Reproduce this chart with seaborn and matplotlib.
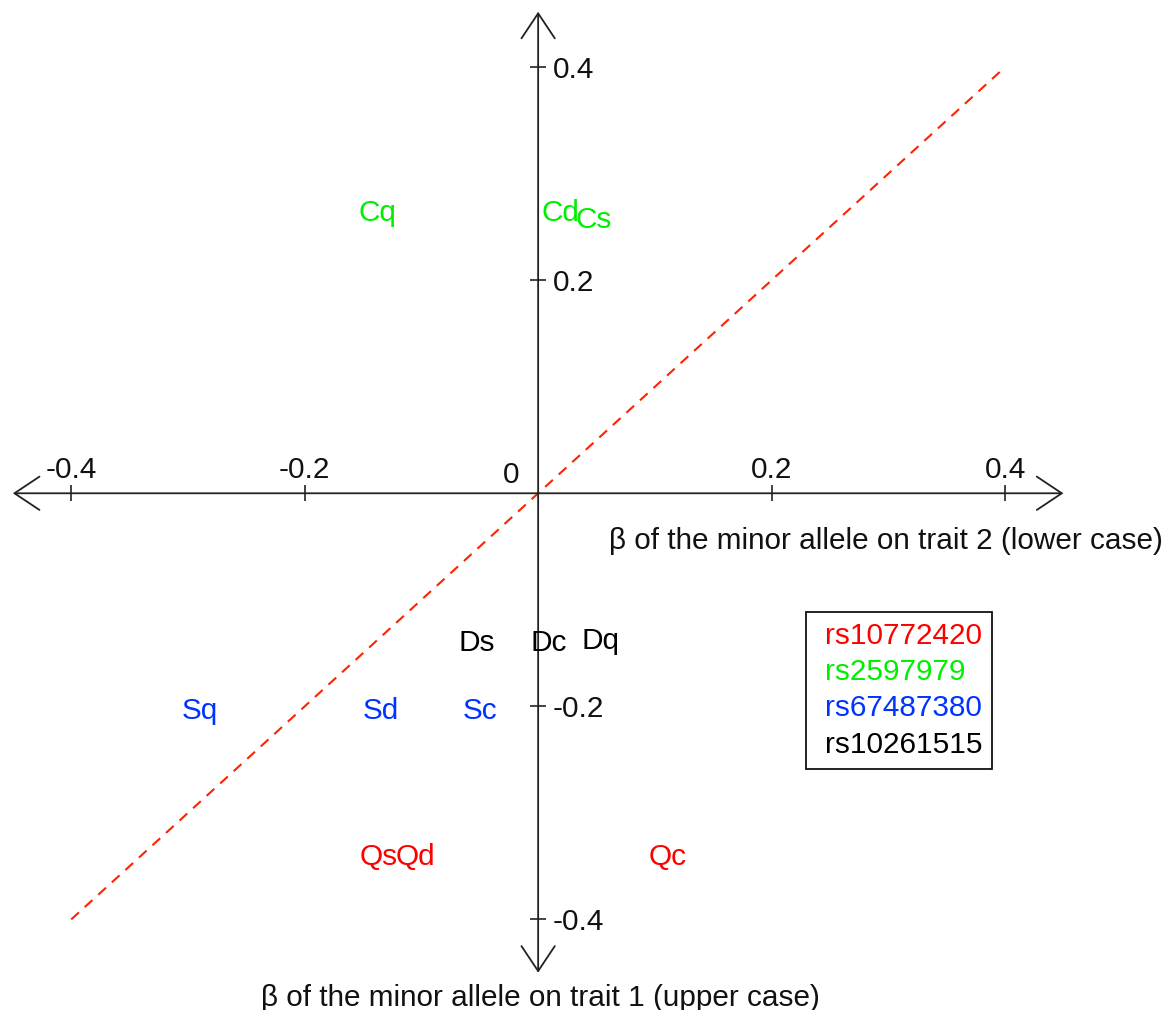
import matplotlib
matplotlib.use("Agg")
import matplotlib.pyplot as plt
from matplotlib.lines import Line2D
import seaborn as sns

# SNPs, their colours and the upper-case code used for trait 1
snps = ["rs10772420", "rs2597979", "rs67487380", "rs10261515"]
snp_colors = ["#FF0000", "#00EE00", "#0033FF", "#000000"]

# Effect sizes per label: x = beta on trait 2, y = beta on trait 1
q_labels = ["Qs", "Qd", "Qc"]
q_x = [-0.137, -0.105, 0.111]
q_y = [-0.339, -0.339, -0.339]

c_labels = ["Cq", "Cd", "Cs"]
c_x = [-0.138, 0.019, 0.048]
c_y = [0.266, 0.266, 0.259]

s_labels = ["Sq", "Sd", "Sc"]
s_x = [-0.290, -0.135, -0.050]
s_y = [-0.202, -0.202, -0.202]

d_labels = ["Ds", "Dc", "Dq"]
d_x = [-0.053, 0.009, 0.053]
d_y = [-0.138, -0.138, -0.136]

diag = [-0.4, 0.4]
x_ticks = [-0.4, -0.2, 0.2, 0.4]
x_tick_labels = ["-0.4", "-0.2", "0.2", "0.4"]
y_ticks = [-0.4, -0.2, 0.2, 0.4]
y_tick_labels = ["-0.4", "-0.2", "0.2", "0.4"]

sns.set_theme(style="white")
plt.rcParams["font.family"] = ["Liberation Sans", "DejaVu Sans"]
FS = 21.4

fig = plt.figure(figsize=(11.65, 10.10), dpi=100)
ax = fig.add_axes([0, 0, 1, 1])
ax.set_xlim(-0.461, 0.537)
ax.set_ylim(-0.485, 0.463)

for sp in ax.spines.values():
    sp.set_visible(False)

# Axes through the origin: ticks above the x axis, to the right of the y axis
ax.spines["top"].set_position(("data", 0))
ax.spines["right"].set_position(("data", 0))
ax.xaxis.tick_top()
ax.yaxis.tick_right()
ax.set_xticks(x_ticks, x_tick_labels)
ax.set_yticks(y_ticks, y_tick_labels)
ax.tick_params(axis="x", direction="inout", length=11.5, width=1.1,
               pad=1.0, labelsize=FS, colors="#111111")
ax.tick_params(axis="y", direction="inout", length=11.5, width=1.1,
               pad=4.5, labelsize=FS, colors="#111111")
ax.grid(False)

arrow = dict(arrowstyle="<->,head_length=0.9,head_width=0.6", mutation_scale=20,
             lw=1.3, color="#222222", shrinkA=0, shrinkB=0)
ax.annotate("", xy=(0.45, 0), xytext=(-0.45, 0), arrowprops=arrow)
ax.annotate("", xy=(0, 0.452), xytext=(0, -0.45), arrowprops=arrow)

ax.text(-0.023, 0.0094, "0", ha="center", va="baseline", fontsize=FS, color="#111111")

# Identity line
sns.lineplot(x=diag, y=diag, ax=ax, color="#FF2200", lw=1.5,
             linestyle=(0, (5, 3.8)))

groups = [(q_labels, q_x, q_y), (c_labels, c_x, c_y),
          (s_labels, s_x, s_y), (d_labels, d_x, d_y)]
for (labels, xs, ys), col in zip(groups, snp_colors):
    for lab, x, y in zip(labels, xs, ys):
        ax.text(x, y, lab, ha="center", va="center_baseline",
                fontsize=FS, color=col)

ax.text(0.298, -0.042, "β of the minor allele on trait 2 (lower case)",
        ha="center", va="center_baseline", fontsize=FS, color="#111111")
ax.text(0.002, -0.471, "β of the minor allele on trait 1 (upper case)",
        ha="center", va="center_baseline", fontsize=FS, color="#111111")

handles = [Line2D([], [], linestyle="none") for _ in snps]
leg = ax.legend(handles, snps, loc="upper left",
                bbox_to_anchor=(806 / 1165, 1 - 612 / 1010),
                bbox_transform=fig.transFigure, borderaxespad=0,
                handlelength=0.31, handletextpad=0, borderpad=0.33,
                labelspacing=0.28, fontsize=FS, labelcolor=snp_colors,
                frameon=True, fancybox=False, framealpha=1, edgecolor="#111111")
leg.get_frame().set_linewidth(1.3)

fig.savefig("out.png", dpi=100)
